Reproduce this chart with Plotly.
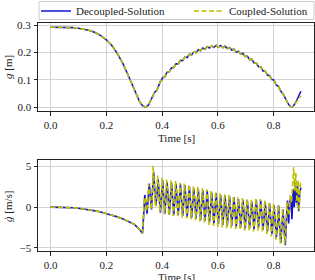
import numpy as np
import plotly.graph_objects as go

# ---------------- data ----------------
# smooth approach phase (shared by both solutions)
t_pre = [0.00, 0.02, 0.04, 0.06, 0.08, 0.10, 0.12, 0.14, 0.16, 0.18,
         0.20, 0.22, 0.24, 0.26, 0.28, 0.30, 0.32, 0.33]
g_pre = [0.293, 0.293, 0.2929, 0.2925, 0.2915, 0.2895, 0.2862, 0.281, 0.2735, 0.262,
         0.247, 0.226, 0.196, 0.158, 0.113, 0.063, 0.018, 0.005]
v_pre = [0.0, 0.0, -0.01, -0.03, -0.07, -0.13, -0.21, -0.33, -0.46, -0.6,
         -0.77, -0.97, -1.2, -1.45, -1.75, -2.1, -2.8, -3.2]

# oscillating phase, sampled every 4 ms starting at t = 0.334 s
t_osc_start = 0.334
t_osc_step = 0.004
g_dec_osc = [0.002, 0.0, 0.0, 0.002, 0.006, 0.013, 0.022, 0.032, 0.042, 0.050, 0.055, 0.058, 0.063, 0.073, 0.085, 0.094,
             0.099, 0.108, 0.1095, 0.111,
             0.120, 0.128, 0.1285, 0.129,
             0.137, 0.144, 0.1445, 0.145,
             0.152, 0.1588, 0.1585, 0.1583,
             0.165, 0.1715, 0.171, 0.1705,
             0.177, 0.1833, 0.1825, 0.1818,
             0.188, 0.1938, 0.1925, 0.1913,
             0.197, 0.2025, 0.201, 0.1995,
             0.205, 0.2103, 0.2085, 0.2068,
             0.212, 0.2168, 0.2145, 0.2123,
             0.217, 0.2215, 0.219, 0.2165,
             0.221, 0.225, 0.222, 0.219,
             0.223, 0.2265, 0.223, 0.2195,
             0.223, 0.226, 0.222, 0.218,
             0.221, 0.2235, 0.219, 0.2145,
             0.217, 0.219, 0.214, 0.209,
             0.211, 0.2125, 0.207, 0.2015,
             0.203, 0.2048, 0.1995, 0.1943,
             0.196, 0.197, 0.191, 0.1855,
             0.186, 0.1868, 0.1805, 0.1743,
             0.175, 0.1753, 0.1685, 0.1618,
             0.162, 0.162, 0.155, 0.148,
             0.148, 0.1475, 0.140, 0.1325,
             0.132, 0.1315, 0.124, 0.1165,
             0.116, 0.1155, 0.108, 0.1005,
             0.100, 0.098, 0.089, 0.080,
             0.078, 0.075, 0.065, 0.055,
             0.052, 0.0485, 0.038, 0.0275,
             0.024, 0.016, 0.009, 0.004,
             0.001, 0.0, 0.002, 0.007,
             0.014, 0.022, 0.030, 0.038,
             0.048, 0.058]
g_cou_osc = g_dec_osc[:-6] + [0.012, 0.018, 0.024, 0.030, 0.036, 0.040]

v_dec_osc = [-1.0, 1.5, 0.6, -0.8,
             1.0, 2.9, 1.5, -0.3,
             2.2, 4.3, 2.0, 0.2,
             1.6, 3.4, 1.4, -0.7,
             1.3, 3.3, 1.2, -0.8,
             1.2, 3.1, 1.1, -0.9,
             1.1, 3.0, 1.0, -1.0,
             1.0, 2.9, 0.9, -1.0,
             0.9, 2.8, 0.8, -1.1,
             0.8, 2.7, 0.7, -1.2,
             0.7, 2.5, 0.6, -1.3,
             0.5, 2.3, 0.4, -1.4,
             0.4, 2.2, 0.3, -1.6,
             0.2, 2.1, 0.1, -1.7,
             0.1, 2.0, 0.0, -1.9,
             -0.1, 1.8, -0.2, -2.0,
             -0.2, 1.7, -0.3, -2.1,
             -0.3, 1.5, -0.4, -2.2,
             -0.4, 1.4, -0.5, -2.3,
             -0.5, 1.3, -0.6, -2.3,
             -0.6, 1.2, -0.7, -2.4,
             -0.7, 1.0, -0.8, -2.5,
             -0.8, 0.9, -0.9, -2.6,
             -0.9, 0.8, -1.0, -2.6,
             -1.0, 0.7, -1.1, -2.7,
             -0.8, 0.9, -0.9, -2.6,
             -0.9, 0.8, -1.1, -2.8,
             -1.2, 0.6, -1.3, -3.0,
             -1.4, 0.4, -1.6, -3.3,
             -1.7, 0.2, -1.9, -3.7,
             -2.2, 0.2, -2.5, -4.4,
             -2.3, -0.3, -2.8, -4.7,
             -1.5, 0.8, -2.0, 0.5,
             1.2, -1.5, 2.2, 0.0,
             3.0, 0.5, 2.6, -0.5,
             1.8, 2.4]

# coupled solution sampled every 4 ms starting at t = 0.336 s
t_cou_start = 0.336
v_cou_osc = [0.8, 1.2, -0.5, 0.4,
             2.8, 1.9, -0.3, 0.6,
             5.1, 2.9, 0.1, 1.3,
             3.9, 2.3, -0.6, 0.7,
             3.6, 2.1, -0.9, 0.4,
             3.4, 1.9, -1.0, 0.4,
             3.3, 1.8, -1.1, 0.2,
             3.2, 1.7, -1.2, 0.2,
             3.0, 1.6, -1.3, 0.1,
             2.9, 1.5, -1.4, 0.0,
             2.8, 1.4, -1.5, -0.1,
             2.6, 1.2, -1.6, -0.3,
             2.5, 1.1, -1.8, -0.4,
             2.3, 0.9, -2.0, -0.6,
             2.2, 0.8, -2.2, -0.7,
             2.0, 0.6, -2.3, -0.9,
             1.9, 0.5, -2.4, -1.0,
             1.7, 0.4, -2.5, -1.1,
             1.6, 0.3, -2.6, -1.2,
             1.5, 0.2, -2.6, -1.3,
             1.4, 0.1, -2.7, -1.4,
             1.2, -0.1, -2.8, -1.5,
             1.1, -0.2, -2.9, -1.6,
             1.0, -0.3, -2.9, -1.6,
             0.9, -0.4, -3.0, -1.7,
             1.1, -0.2, -2.9, -1.6,
             1.0, -0.3, -3.1, -1.7,
             0.8, -0.5, -3.3, -2.0,
             0.6, -0.8, -3.6, -2.2,
             0.4, -1.0, -4.0, -2.6,
             0.2, -1.4, -4.5, -3.3,
             -0.2, -1.7, -4.6, -3.0,
             0.6, -0.8, -1.0, 1.5,
             0.5, 2.5, 4.9, 2.0,
             4.2, 0.2, 3.3, -0.5,
             3.0]

x_ticks = [0.0, 0.2, 0.4, 0.6, 0.8]
g_ticks = [0.0, 0.1, 0.2, 0.3]
g_ticktext = ["0.0", "0.1", "0.2", ""]   # top label is placed as an annotation below
g_top_label = "0.3"
v_ticks = [-5, 0, 5]

# ---------------- assemble series ----------------
t_dec_osc = t_osc_start + t_osc_step * np.arange(len(v_dec_osc))
t_cou_osc = t_cou_start + t_osc_step * np.arange(len(v_cou_osc))
t_g_osc = t_osc_start + t_osc_step * np.arange(len(g_dec_osc))

t_g = np.concatenate([t_pre, t_g_osc])
g_dec = np.concatenate([g_pre, g_dec_osc])
g_cou = np.concatenate([g_pre, g_cou_osc])
t_vd = np.concatenate([t_pre, t_dec_osc])
v_dec = np.concatenate([v_pre, v_dec_osc])
t_vc = np.concatenate([t_pre, t_cou_osc])
v_cou = np.concatenate([v_pre, v_cou_osc])

BLUE = "#1414d2"
YEL = "#bfbf00"
FONT = "Liberation Serif"
TXT = "#222222"
W, H = 315, 280

fig = go.Figure()
fig.add_trace(go.Scatter(x=t_g, y=g_dec, mode="lines", name="Decoupled-Solution",
                         line=dict(color=BLUE, width=1.6), xaxis="x", yaxis="y",
                         legend="legend"))
fig.add_trace(go.Scatter(x=t_g, y=g_cou, mode="lines", name="Coupled-Solution",
                         line=dict(color=YEL, width=1.6, dash="5px,2.5px"), xaxis="x", yaxis="y",
                         legend="legend2"))
fig.add_trace(go.Scatter(x=t_vd, y=v_dec, mode="lines", showlegend=False,
                         line=dict(color=BLUE, width=1.6), xaxis="x2", yaxis="y2"))
fig.add_trace(go.Scatter(x=t_vc, y=v_cou, mode="lines", showlegend=False,
                         line=dict(color=YEL, width=1.6, dash="5px,2.5px"), xaxis="x2", yaxis="y2"))

axis_common = dict(showline=True, linecolor=TXT, linewidth=1, mirror=True,
                   ticks="outside", ticklen=3.5, tickwidth=1, tickcolor=TXT,
                   showgrid=True, gridcolor="#d3d3d3", gridwidth=1, zeroline=False,
                   tickfont=dict(family=FONT, size=11, color=TXT),
                   ticklabeloverflow="allow", automargin=False)

legend_common = dict(orientation="h", xanchor="left", yanchor="middle", y=1 - 11 / H,
                     bgcolor="rgba(0,0,0,0)", borderwidth=0,
                     font=dict(family=FONT, size=11, color=TXT), itemwidth=30)

xdom = [38 / W, 314 / W]
fig.update_layout(
    width=W, height=H,
    margin=dict(l=0, r=0, t=0, b=0, autoexpand=False),
    paper_bgcolor="white", plot_bgcolor="white",
    font=dict(family=FONT, size=11, color=TXT),
    xaxis=dict(domain=xdom, range=[-0.045, 0.945], tickvals=x_ticks, tickformat=".1f",
               anchor="y", **axis_common),
    yaxis=dict(domain=[1 - 111 / H, 1 - 23 / H], range=[-0.0147, 0.3085],
               tickmode="array", tickvals=g_ticks, ticktext=g_ticktext, anchor="x",
               **axis_common),
    xaxis2=dict(domain=xdom, range=[-0.045, 0.945], tickvals=x_ticks, tickformat=".1f",
                anchor="y2", **axis_common),
    yaxis2=dict(domain=[1 - 251 / H, 1 - 160 / H], range=[-5.4, 5.8],
                tickvals=v_ticks, anchor="x2", **axis_common),
    legend=dict(x=36 / W, **legend_common),
    legend2=dict(x=189 / W, **legend_common),
    showlegend=True,
)

# legend frame
fig.add_shape(type="rect", xref="paper", yref="paper",
              x0=39 / W, x1=314 / W, y0=1 - 19.5 / H, y1=1 - 1.5 / H,
              line=dict(color="#cccccc", width=1), fillcolor="rgba(0,0,0,0)", layer="below")

# top tick label of the g axis, positioned through the y scale
title_font = dict(family=FONT, size=11, color=TXT)
fig.add_annotation(text=g_top_label, xref="paper", yref="y", x=33 / W, y=g_ticks[-1],
                   xanchor="right", yanchor="middle", showarrow=False, font=title_font)

# axis titles as annotations (bottom one partly cut like the reference)
fig.add_annotation(text="Time [s]", xref="paper", yref="paper", x=176 / W, y=1 - 138 / H,
                   xanchor="center", yanchor="middle", showarrow=False, font=title_font)
fig.add_annotation(text="Time [s]", xref="paper", yref="paper", x=176 / W, y=1 - 277 / H,
                   xanchor="center", yanchor="middle", showarrow=False, font=title_font)
fig.add_annotation(text="<i>g</i> [m]", xref="paper", yref="paper", x=8 / W, y=1 - 67 / H,
                   xanchor="center", yanchor="middle", showarrow=False, textangle=-90,
                   font=title_font)
fig.add_annotation(text="<i>ġ</i> [m/s]", xref="paper", yref="paper", x=8 / W, y=1 - 207 / H,
                   xanchor="center", yanchor="middle", showarrow=False, textangle=-90,
                   font=title_font)

fig.write_html("out.html")
